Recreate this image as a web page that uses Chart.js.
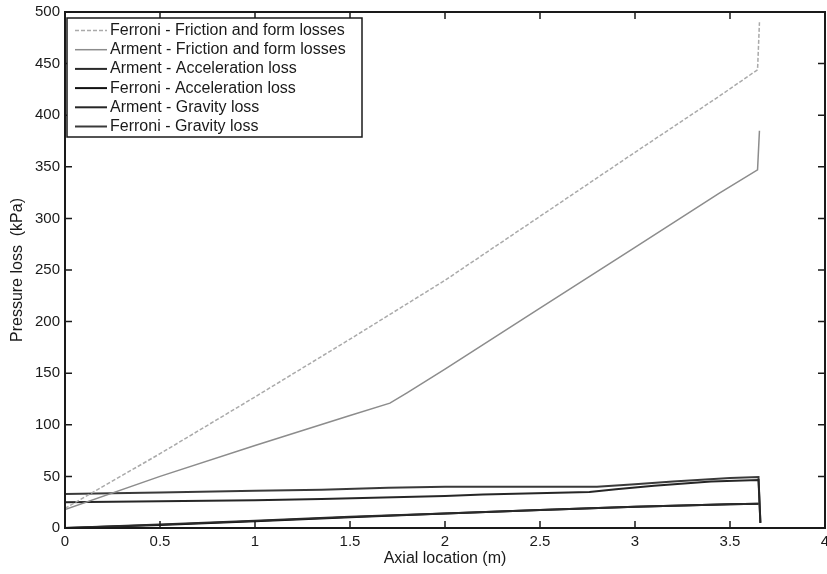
<!DOCTYPE html>
<html>
<head>
<meta charset="utf-8">
<script src="https://cdn.jsdelivr.net/npm/chart.js@4"></script>
<style>
  html, body { margin: 0; padding: 0; background: #fff; }
  #wrap { width: 827px; height: 574px; }
</style>
</head>
<body>
<div id="wrap"><canvas id="chart" width="827" height="574"></canvas></div>
<script>
// values
const axialFerroniFriction = [0, 0.5, 1.0, 1.5, 2.0, 2.5, 3.0, 3.44, 3.645, 3.655];
const ferroniFriction = [19, 72, 127, 183, 240, 302, 364, 418, 444, 490];

const axialArmentFriction = [0, 0.5, 1.0, 1.5, 1.71, 1.8, 2.0, 2.5, 3.0, 3.44, 3.645, 3.655];
const armentFriction = [18, 50, 80, 109, 121, 131, 154, 213, 272, 324, 347, 385];

const axialAccel = [0, 0.5, 1.0, 1.5, 2.0, 2.5, 3.0, 3.5, 3.65];
const armentAccel = [0, 3.5, 7, 11, 14, 17.5, 20.5, 23, 23.5];
const ferroniAccel = [0, 3, 6.5, 10.5, 14, 17.5, 20.5, 23, 23.5];

const axialArmentGravity = [0, 0.5, 1.0, 1.35, 2.0, 2.2, 2.76, 2.9, 3.1, 3.4, 3.65, 3.66];
const armentGravity = [25, 26, 27, 28, 31, 32.5, 35, 37.5, 41, 45, 46.5, 5];

const axialFerroniGravity = [0, 0.5, 1.0, 1.35, 1.7, 2.0, 2.2, 2.8, 3.0, 3.2, 3.5, 3.65, 3.66];
const ferroniGravity = [33, 34.5, 36, 37, 39, 40, 40, 40, 42.5, 45, 48.5, 49.5, 5];

const xTicks = [0, 0.5, 1, 1.5, 2, 2.5, 3, 3.5, 4];
const yTicks = [0, 50, 100, 150, 200, 250, 300, 350, 400, 450, 500];

const FONT = "'Liberation Sans', Arial, sans-serif";

function pts(xs, ys) {
  return xs.map((x, i) => ({ x: x, y: ys[i] }));
}

function series(label, xs, ys, color, width, dash) {
  return {
    label: label,
    data: pts(xs, ys),
    borderColor: color,
    backgroundColor: color,
    borderWidth: width,
    borderDash: dash || [],
    pointRadius: 0,
    tension: 0,
    fill: false,
  };
}

// axes box with ticks on the inside, on all four sides
const framePlugin = {
  id: "frame",
  afterDraw(chart) {
    const { ctx, chartArea: a, scales } = chart;
    ctx.save();
    ctx.strokeStyle = "#1a1a1a";
    ctx.lineWidth = 2;
    ctx.strokeRect(a.left, a.top, a.right - a.left, a.bottom - a.top);
    ctx.lineWidth = 1.5;
    const tl = 7;
    xTicks.forEach((v) => {
      const px = scales.x.getPixelForValue(v);
      ctx.beginPath();
      ctx.moveTo(px, a.bottom);
      ctx.lineTo(px, a.bottom - tl);
      ctx.moveTo(px, a.top);
      ctx.lineTo(px, a.top + tl);
      ctx.stroke();
    });
    yTicks.forEach((v) => {
      const py = scales.y.getPixelForValue(v);
      ctx.beginPath();
      ctx.moveTo(a.left, py);
      ctx.lineTo(a.left + tl, py);
      ctx.moveTo(a.right, py);
      ctx.lineTo(a.right - tl, py);
      ctx.stroke();
    });
    ctx.restore();
  },
};

// boxed legend in the top left corner of the axes
const legendBoxPlugin = {
  id: "legendBox",
  afterDraw(chart) {
    const { ctx, chartArea: a } = chart;
    const x0 = a.left + 2, y0 = a.top + 6, w = 295, h = 119;
    ctx.save();
    ctx.fillStyle = "#fff";
    ctx.fillRect(x0, y0, w, h);
    ctx.strokeStyle = "#1a1a1a";
    ctx.lineWidth = 1.5;
    ctx.strokeRect(x0, y0, w, h);
    ctx.font = "16px " + FONT;
    ctx.textBaseline = "middle";
    chart.data.datasets.forEach((ds, i) => {
      const y = y0 + 12.5 + i * 19.2;
      ctx.strokeStyle = ds.borderColor;
      ctx.lineWidth = ds.borderWidth;
      ctx.setLineDash(ds.borderDash);
      ctx.beginPath();
      ctx.moveTo(x0 + 8, y);
      ctx.lineTo(x0 + 40, y);
      ctx.stroke();
      ctx.setLineDash([]);
      ctx.fillStyle = "#1a1a1a";
      ctx.fillText(ds.label, x0 + 43, y);
    });
    ctx.restore();
  },
};

new Chart(document.getElementById("chart").getContext("2d"), {
  type: "line",
  data: {
    datasets: [
      series("Ferroni - Friction and form losses", axialFerroniFriction, ferroniFriction, "#aaaaaa", 1.5, [4, 2]),
      series("Arment - Friction and form losses", axialArmentFriction, armentFriction, "#8c8c8c", 1.5),
      series("Arment - Acceleration loss", axialAccel, armentAccel, "#2a2a2a", 2),
      series("Ferroni - Acceleration loss", axialAccel, ferroniAccel, "#111111", 2),
      series("Arment - Gravity loss", axialArmentGravity, armentGravity, "#262626", 2),
      series("Ferroni - Gravity loss", axialFerroniGravity, ferroniGravity, "#3a3a3a", 2),
    ],
  },
  options: {
    responsive: false,
    animation: false,
    layout: { padding: { top: 12, right: 2, left: 0, bottom: 0 } },
    plugins: {
      legend: { display: false },
      tooltip: { enabled: false },
    },
    scales: {
      x: {
        type: "linear",
        min: 0,
        max: 4,
        afterBuildTicks: (s) => { s.ticks = xTicks.map((v) => ({ value: v })); },
        afterFit: (s) => {
          s.height = 46;
          s.paddingLeft = 0;
          s.paddingRight = 0;
        },
        grid: { display: false, drawTicks: false },
        border: { display: false },
        ticks: {
          color: "#1a1a1a",
          font: { family: FONT, size: 15 },
          padding: 5,
          maxRotation: 0,
          callback: (v) => String(v),
        },
        title: {
          display: true,
          text: "Axial location (m)",
          color: "#1a1a1a",
          font: { family: FONT, size: 16 },
          padding: { top: 0, bottom: 6 },
        },
      },
      y: {
        min: 0,
        max: 500,
        afterBuildTicks: (s) => { s.ticks = yTicks.map((v) => ({ value: v })); },
        afterFit: (s) => {
          s.width = 65;
          s.paddingTop = 0;
          s.paddingBottom = 0;
        },
        grid: { display: false, drawTicks: false },
        border: { display: false },
        ticks: {
          color: "#1a1a1a",
          font: { family: FONT, size: 15 },
          padding: 5,
          callback: (v) => String(v),
        },
        title: {
          display: true,
          text: "Pressure loss  (kPa)",
          color: "#1a1a1a",
          font: { family: FONT, size: 16 },
          padding: { top: 8, bottom: 0 },
        },
      },
    },
  },
  plugins: [framePlugin, legendBoxPlugin],
});
</script>
</body>
</html>
